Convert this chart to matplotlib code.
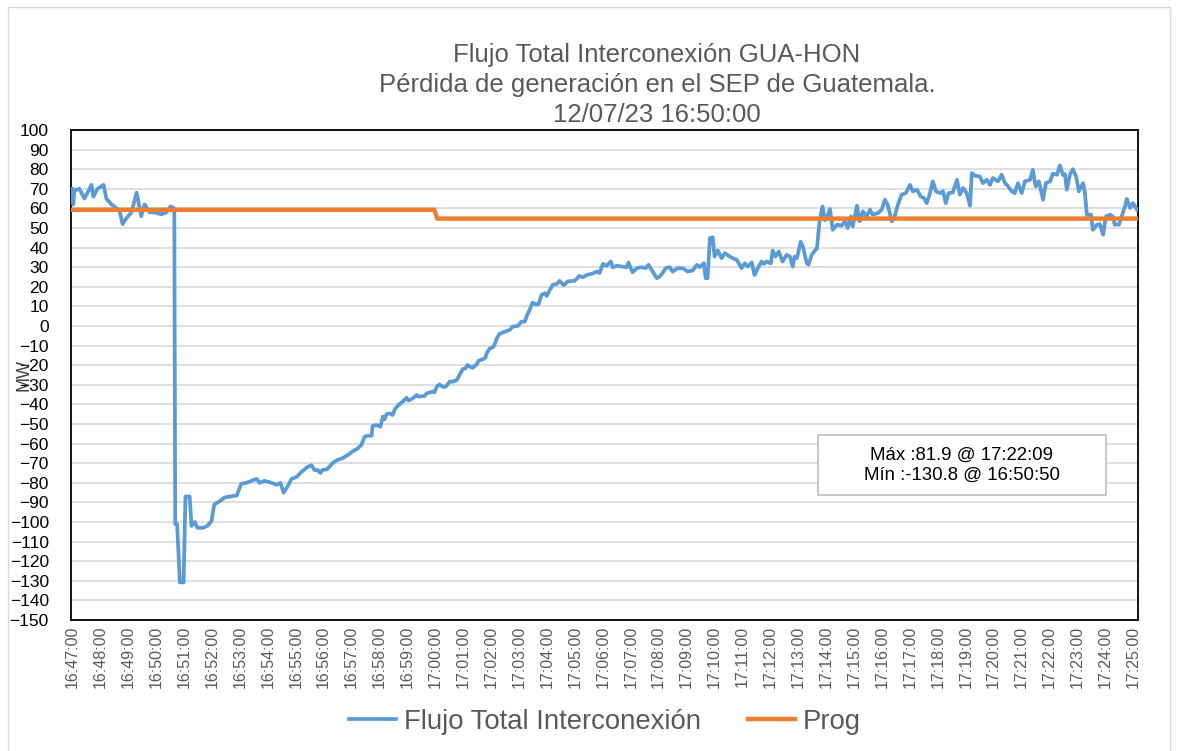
import pandas as pd
import matplotlib
import matplotlib.pyplot as plt
import matplotlib.dates as mdates
from matplotlib.patches import Rectangle

matplotlib.use('Agg')

# seconds after 16:47:00 and measured flow (MW)
t_sec = [
    0, 2, 4, 15, 26, 41, 45, 54, 67, 73, 84, 95, 101, 108, 116, 127, 138, 148,
    155, 166, 176, 191, 202, 211, 219, 221, 225, 231, 239, 243, 252, 256, 263,
    269, 280, 290, 299, 305, 316, 327, 338, 353, 363, 374, 385, 396, 402, 413,
    428, 439, 447, 454, 462, 471, 482, 492, 505, 514, 520, 527, 533, 537, 548,
    559, 568, 580, 591, 602, 613, 621, 628, 634, 643, 645, 654, 662, 667, 671,
    675, 682, 688, 694, 703, 710, 718, 722, 731, 740, 744, 757, 761, 774, 778,
    783, 789, 796, 802, 811, 817, 826, 832, 839, 845, 849, 856, 860, 869, 873,
    882, 888, 890, 897, 903, 907, 912, 918, 929, 940, 946, 957, 965, 972, 976,
    980, 989, 995, 1002, 1008, 1015, 1019, 1026, 1032, 1041, 1047, 1056, 1064,
    1073, 1079, 1090, 1097, 1105, 1116, 1127, 1133, 1140, 1148, 1157, 1161,
    1170, 1183, 1191, 1195, 1204, 1213, 1223, 1232, 1238, 1247, 1256, 1262,
    1269, 1275, 1284, 1290, 1301, 1312, 1322, 1333, 1342, 1348, 1357, 1361,
    1365, 1370, 1376, 1380, 1387, 1395, 1402, 1413, 1419, 1428, 1438, 1445,
    1451, 1460, 1466, 1473, 1481, 1486, 1492, 1501, 1505, 1511, 1518, 1526,
    1535, 1542, 1548, 1552, 1557, 1565, 1570, 1578, 1582, 1589, 1597, 1600,
    1606, 1612, 1617, 1621, 1628, 1634, 1643, 1653, 1660, 1666, 1673, 1677,
    1686, 1692, 1699, 1707, 1714, 1720, 1731, 1739, 1746, 1752, 1761, 1767,
    1774, 1782, 1791, 1800, 1806, 1815, 1823, 1830, 1836, 1843, 1849, 1856,
    1864, 1871, 1877, 1883, 1892, 1901, 1907, 1914, 1922, 1929, 1933, 1939,
    1950, 1957, 1965, 1972, 1978, 1989, 1997, 2004, 2010, 2019, 2025, 2032,
    2040, 2047, 2058, 2064, 2070, 2077, 2086, 2092, 2101, 2107, 2116, 2122,
    2129, 2133, 2137, 2144, 2150, 2157, 2163, 2172, 2176, 2180, 2189, 2193,
    2202, 2208, 2215, 2221, 2230, 2236, 2240, 2249, 2256, 2262, 2266, 2273,
    2279, 2288,
]
flujo = [
    70, 62, 69, 70, 65, 72, 66, 70, 72, 65, 62, 60, 59, 52, 55, 58, 68, 56,
    62, 58, 58, 57, 58, 61, 60, -101, -101, -130.8, -130.8, -87, -87, -102, -100,
    -103, -103, -102, -99.5, -91, -89.5, -87.5, -87, -86.5, -80.5, -80, -79, -78, -80, -79,
    -80, -81, -80, -85, -82, -78, -77, -74.5, -72, -71, -73.5, -73.5, -75, -73.5, -73,
    -70, -68.5, -67.5, -66, -64, -62.5, -60.7, -56.5, -56, -56, -51, -50.5, -51.4, -46.3, -47.6,
    -45, -44.6, -45.4, -42, -39.8, -38.6, -36.6, -38, -37, -35.2, -36, -35.7, -34.4, -33.5, -33.8,
    -31, -29.8, -31, -31, -28.4, -28.4, -27.6, -25, -22, -21.6, -19.9, -21, -21.3, -19.5, -17.7,
    -17, -16, -14, -11.4, -11, -9.7, -6.3, -4, -2.9, -2, -0.3, 0, 2.2, 2.2, 4.8,
    6.8, 11.9, 11, 11.2, 15.8, 16.7, 15.3, 18.4, 21, 21.4, 23, 20.8, 22.7,
    23, 23, 25.6, 24.8, 26, 26.6, 27.8, 27, 31.7, 30.7, 32.9, 30,
    30.7, 30.3, 30, 32.4, 27.4, 29.5, 30, 29.5, 31.2, 27.8, 24.4, 25.2,
    27.3, 29.5, 30, 27.8, 29.5, 29.5, 27.8, 28.3, 31.2, 30, 32, 24.4,
    24.4, 44.8, 45.3, 35.4, 38.5, 34.6, 37.1, 35.4, 34.6, 33.7, 29.5, 32,
    30.3, 32.4, 26, 29.5, 32.9, 31.7, 32.9, 32, 38.5, 35.4, 38, 32.9,
    36.3, 35.4, 30.3, 35.4, 34.6, 43, 40.5, 32.1, 31.3, 36.4, 38.9, 39.5,
    54.2, 61, 54, 55, 59.7, 49.1, 51.7, 51.2, 53.4, 50, 55.9, 50.8,
    61.4, 53.4, 58.5, 55.9, 59.3, 56.8, 57.6, 59.3, 64.4, 61.9, 53.4, 55.9,
    61.9, 67, 67.8, 72, 68.7, 69.5, 66.1, 65.3, 62.7, 67.8, 73.8, 68.7,
    67.8, 68.7, 62.7, 67.8, 68.1, 74.6, 67, 70.4, 67.8, 61.4, 78, 76.7,
    76.3, 72.9, 74.6, 72, 75.5, 73.8, 77.2, 72.9, 71.5, 68.7, 67.8, 72.9,
    67.8, 73.8, 74.6, 79.7, 71.2, 73.8, 64.4, 72.9, 73.8, 77.7, 77.2, 81.9,
    77, 77.5, 69.5, 77.5, 80, 76.3, 68.7, 72.9, 67.8, 56.8, 56.8, 49.1,
    51.7, 52, 46.6, 55.9, 56.8, 55.9, 51.7, 51.7, 56.8, 61, 64.8, 60.2,
    62.7, 59.3,
]

# programmed schedule
prog_t = [0, 778, 784, 2288]
prog = [59.3, 59.3, 54.8, 54.8]

y_ticks = list(range(-150, 101, 10))

start = pd.Timestamp('2023-07-12 16:47:00')
x_flujo = start + pd.to_timedelta(t_sec, unit='s')
x_prog = start + pd.to_timedelta(prog_t, unit='s')

text_gray = '#595959'

fig = plt.figure(figsize=(11.82, 7.51), dpi=100)
fig.patches.append(Rectangle((8 / 1182, -0.01), 1162 / 1182, 1 - 7 / 751 + 0.01,
                             transform=fig.transFigure, fill=False,
                             edgecolor='#d9d9d9', linewidth=1))

ax = fig.add_axes([71 / 1182, 1 - 620 / 751, (1138 - 71) / 1182, 490 / 751])

ax.plot(x_flujo, flujo, color='#5b9bd5', linewidth=2.7,
        label='Flujo Total Interconexión', zorder=3)
ax.plot(x_prog, prog, color='#ed7d31', linewidth=3.2, label='Prog', zorder=4)

ax.set_ylim(-150, 100)
ax.set_yticks(y_ticks)
ax.set_xlim(start - pd.Timedelta(seconds=3), start + pd.Timedelta(seconds=2290))
ax.xaxis.set_major_locator(mdates.MinuteLocator(interval=1))
ax.xaxis.set_major_formatter(mdates.DateFormatter('%H:%M:%S'))

ax.grid(axis='y', color='#d9d9d9', linewidth=1.2)
ax.set_axisbelow(True)
for side in ['left', 'top', 'right', 'bottom']:
    ax.spines[side].set_color('black')
    ax.spines[side].set_linewidth(1.3)

ax.tick_params(axis='x', length=0, labelrotation=90, labelsize=11.5,
               labelcolor=text_gray, pad=4)
ax.tick_params(axis='y', length=0, labelsize=12.5, labelcolor='black', pad=16)
for lbl in ax.get_xticklabels() + ax.get_yticklabels():
    lbl.set_fontfamily('Liberation Sans')

ax.set_ylabel('MW', fontsize=13, family='Liberation Sans', color='#404040')
ax.yaxis.set_label_coords(-38 / 1067, 0.5)

fig.text(657 / 1182, 1 - 85 / 751,
         'Flujo Total Interconexión GUA-HON\n'
         'Pérdida de generación en el SEP de Guatemala.\n'
         '12/07/23 16:50:00',
         ha='center', va='center', fontsize=18.5, color=text_gray,
         family='Liberation Sans', linespacing=1.3)

# stats box
ax.add_patch(Rectangle((747 / 1067, 125 / 490), 288 / 1067, 60 / 490,
                       transform=ax.transAxes, facecolor='white',
                       edgecolor='#bfbfbf', linewidth=1.2, zorder=5))
ax.text(891 / 1067, 155 / 490,
        'Máx :81.9 @ 17:22:09\nMín :-130.8 @ 16:50:50',
        transform=ax.transAxes, ha='center', va='center', fontsize=13.4,
        family='Liberation Sans', linespacing=1.25, zorder=6)

fig.legend(loc='center', bbox_to_anchor=(605 / 1182, 1 - 722 / 751), ncol=2,
           frameon=False, prop={'family': 'Liberation Sans', 'size': 19.8},
           labelcolor=text_gray, handlelength=1.7, handletextpad=0.3,
           columnspacing=1.7)

fig.savefig('out.png', dpi=100)
